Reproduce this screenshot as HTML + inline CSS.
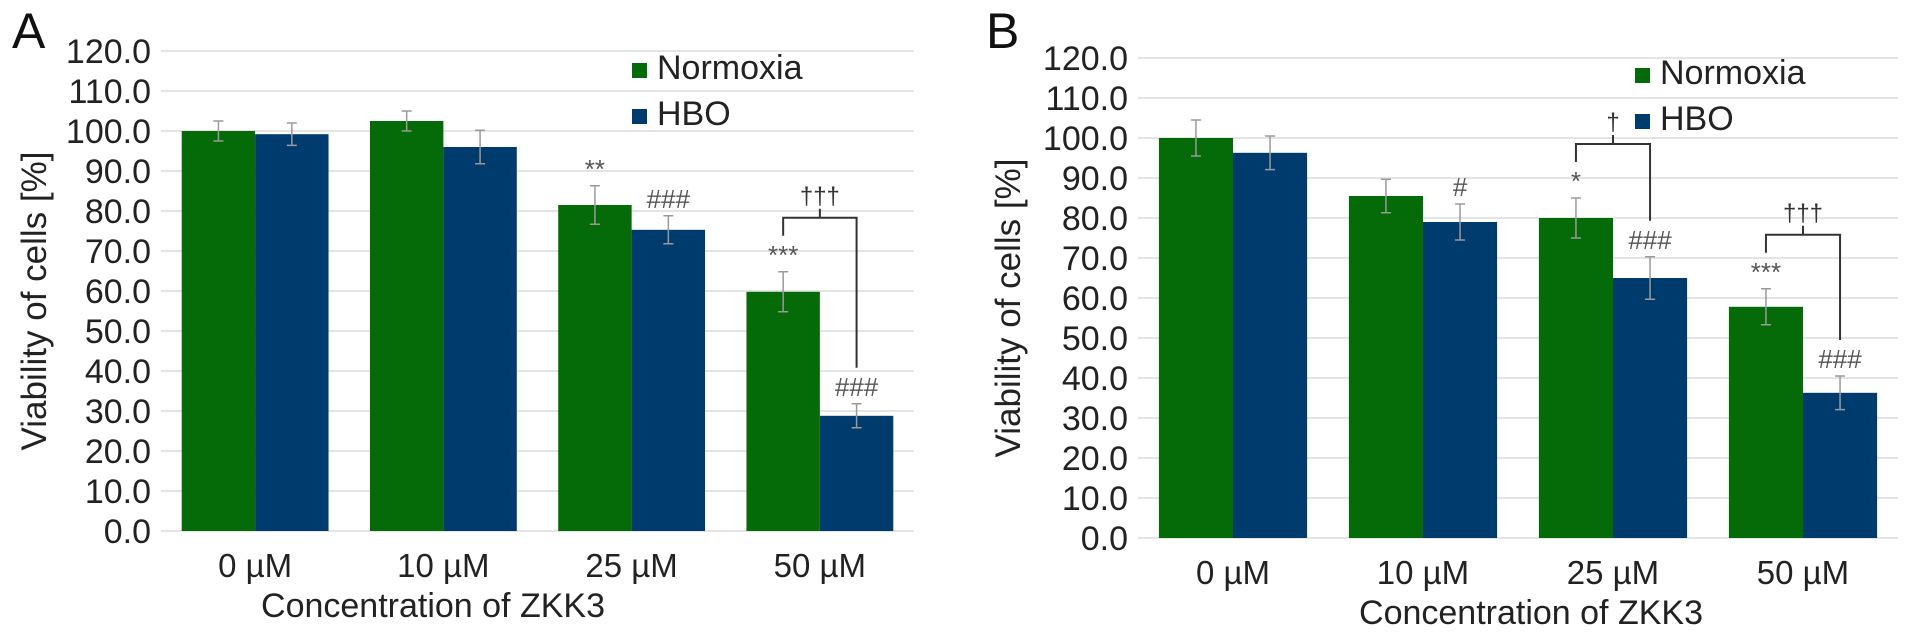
<!DOCTYPE html>
<html><head><meta charset="utf-8"><style>
body{margin:0;background:#fff;}
svg{display:block;font-family:"Liberation Sans",Arial,sans-serif;}
</style></head><body>
<svg id="fig" width="1913" height="634" viewBox="0 0 1913 634" xmlns="http://www.w3.org/2000/svg"></svg>
<script>
const categories = ["0 \u00b5M","10 \u00b5M","25 \u00b5M","50 \u00b5M"];
const ticks = [0,10,20,30,40,50,60,70,80,90,100,110,120];
const normA = [100,102.5,81.5,59.8];
const hboA = [99.2,96,75.3,28.8];
const normErrA = [2.5,2.5,4.8,5];
const hboErrA = [2.8,4.2,3.5,3];
const normAnnA = ["","","**","***"];
const hboAnnA = ["","","###","###"];
const normB = [100,85.5,80,57.8];
const hboB = [96.3,79,65,36.3];
const normErrB = [4.5,4.2,5,4.5];
const hboErrB = [4.2,4.5,5.3,4.2];
const normAnnB = ["","","*","***"];
const hboAnnB = ["","#","###","###"];

const NS="http://www.w3.org/2000/svg";
const svg=document.getElementById('fig');
function mk(tag,attrs,parent,text){const e=document.createElementNS(NS,tag);for(const k in attrs)e.setAttribute(k,attrs[k]);if(text!==undefined)e.textContent=text;(parent||svg).appendChild(e);return e;}

function panel(p){
  const g=mk('g',{});
  
  
  const yS=v=>p.y0-(v/120)*(p.y0-p.y120);
  const band=(p.x1-p.x0)/categories.length;
  const bw=band*0.39;
  const cx=i=>p.x0+band*(i+0.5);
  const pl=mk('text',{x:p.lx,y:48,'font-size':50,fill:'#111'},g,p.id);
  
  
  ticks.forEach(t=>{
    const gl=mk('line',{x1:p.x0,x2:p.x1,y1:yS(t),y2:yS(t),stroke:'#e4e4e4','stroke-width':2},g);
    
    
    const tl=mk('text',{x:p.x0-10,y:yS(t)+12,'font-size':34,'text-anchor':'end',fill:'#222'},g,t.toFixed(1));
    
    
  });
  const yt=mk('text',{x:0,y:0,'font-size':35,'text-anchor':'middle',fill:'#222',transform:`translate(${p.ytx},${(p.y0+p.y120)/2+10}) rotate(-90)`},g,'Viability of cells [%]');
  
  
  const topOf=[];
  categories.forEach((c,i)=>{
    const sets=[[p.n,p.ne,'#056a08',cx(i)-bw,p.na,'normoxia'],[p.h,p.he,'#003b6e',cx(i),p.ha,'hbo']];
    topOf[i]=[];
    sets.forEach(([vals,errs,col,x,anns,nm])=>{
      const v=vals[i],e=errs[i];
      const r=mk('rect',{x:x,y:yS(v),width:bw,height:yS(0)-yS(v),fill:col},g);
      
      
      const ex=x+bw/2;
      const eb=mk('path',{d:`M${ex},${yS(v-e)}V${yS(v+e)}M${ex-5},${yS(v+e)}H${ex+5}M${ex-5},${yS(v-e)}H${ex+5}`,stroke:'#9a9a9a','stroke-width':1.5,fill:'none'},g);
      
      
      const ty=yS(v+e)-8;
      topOf[i].push([ex,ty]);
      if(anns[i]){
        const an=mk('text',{x:ex,y:ty,'font-size':26,'text-anchor':'middle',fill:'#555'},g,anns[i]);
        
        
      }
    });
  });
  p.brackets.forEach(i=>{
    const [a,b]=topOf[i];
    const la=a[1]-28, lb=b[1]-28;
    const hy=Math.min(la,lb)-18;
    const br=mk('path',{d:`M${a[0]},${la}V${hy}H${b[0]}V${lb}M${(a[0]+b[0])/2},${hy}V${hy-9}`,stroke:'#333','stroke-width':2,fill:'none'},g);
    
    
    const dg=mk('text',{x:(a[0]+b[0])/2,y:hy-14,'font-size':24,'text-anchor':'middle',fill:'#333'},g,p.dag[i]);
    
    
  });
  categories.forEach((c,i)=>{
    const xl=mk('text',{x:cx(i),y:p.y0+46,'font-size':33,'text-anchor':'middle',fill:'#222'},g,c);
    
    
  });
  const xt=mk('text',{x:p.xtx,y:p.y0+86,'font-size':34,'text-anchor':'middle',fill:'#222'},g,'Concentration of ZKK3');
  
  
  [['Normoxia','#056a08',p.legY],['HBO','#003b6e',p.legY+46]].forEach(([n,col,y])=>{
    const le=mk('g',{},g);
    
    
    mk('rect',{x:p.legX,y:y-16,width:15,height:15,fill:col},le);
    mk('text',{x:p.legX+25,y:y,'font-size':34,fill:'#222'},le,n);
  });
}
panel({id:'A',lx:12,x0:161,x1:914,y0:531,y120:51,ytx:46,xtx:433,n:normA,h:hboA,ne:normErrA,he:hboErrA,na:normAnnA,ha:hboAnnA,brackets:[3],dag:{3:'\u2020\u2020\u2020'},legX:632,legY:79});
panel({id:'B',lx:986,x0:1138,x1:1898,y0:538,y120:58,ytx:1020,xtx:1531,n:normB,h:hboB,ne:normErrB,he:hboErrB,na:normAnnB,ha:hboAnnB,brackets:[2,3],dag:{2:'\u2020',3:'\u2020\u2020\u2020'},legX:1635,legY:84});
</script>
</body></html>
